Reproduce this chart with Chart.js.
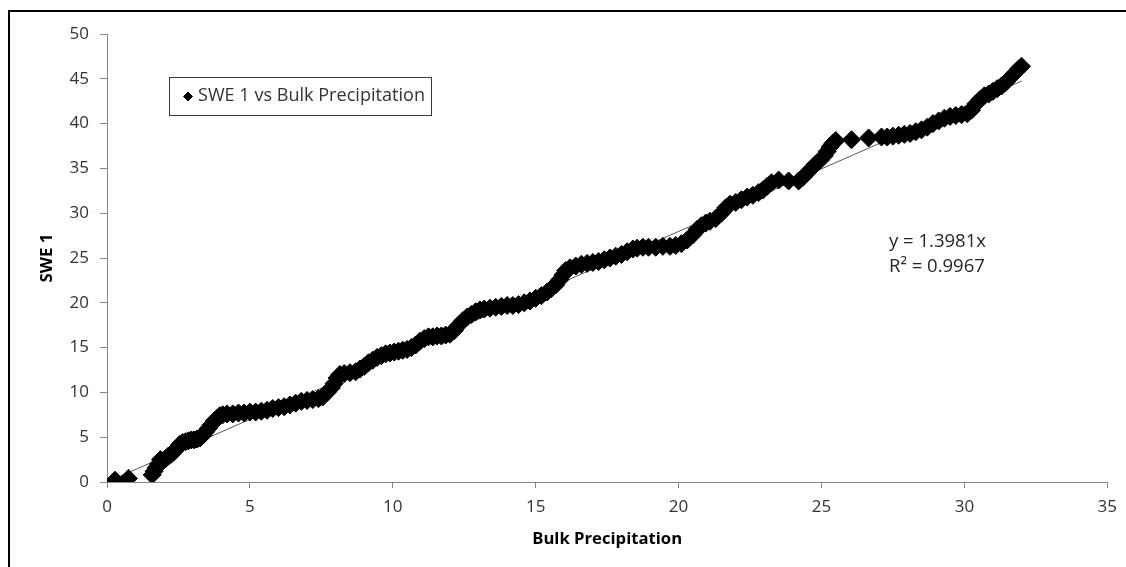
<!DOCTYPE html>
<html>
<head>
<meta charset="utf-8">
<script src="https://cdn.jsdelivr.net/npm/chart.js@4.4.1/dist/chart.umd.min.js"></script>
<style>
  html, body { margin: 0; padding: 0; background: #fff; }
  canvas { display: block; }
</style>
</head>
<body>
<canvas id="c" width="1126" height="567"></canvas>
<script>
// Cumulative bulk precipitation (x) and SWE 1 (y), one entry per observation
const precip = [
  0.28, 0.75, 1.58, 1.65, 1.72, 1.80, 1.87, 2.05, 2.15, 2.25,
  2.35, 2.45, 2.55, 2.65, 2.75, 2.85, 2.95, 3.05, 3.15, 3.25,
  3.35, 3.45, 3.55, 3.65, 3.75, 3.85, 3.95, 4.05, 4.20, 4.40,
  4.60, 4.80, 5.00, 5.20, 5.40, 5.60, 5.80, 6.00, 6.20, 6.40,
  6.60, 6.80, 7.00, 7.20, 7.40, 7.55, 7.70, 7.85, 7.95, 8.05,
  8.15, 8.30, 8.50, 8.70, 8.85, 9.00, 9.15, 9.30, 9.45, 9.60,
  9.75, 9.90, 10.05, 10.20, 10.35, 10.50, 10.65, 10.80, 10.95, 11.10,
  11.25, 11.40, 11.55, 11.70, 11.85, 12.00, 12.15, 12.30, 12.45, 12.60,
  12.75, 12.90, 13.05, 13.20, 13.40, 13.60, 13.80, 14.00, 14.20, 14.40,
  14.60, 14.80, 15.00, 15.20, 15.40, 15.55, 15.70, 15.85, 15.95, 16.05,
  16.20, 16.40, 16.60, 16.80, 17.00, 17.20, 17.40, 17.60, 17.80, 18.00,
  18.20, 18.40, 18.55, 18.75, 18.95, 19.20, 19.45, 19.70, 19.90, 20.10,
  20.30, 20.50, 20.65, 20.80, 20.95, 21.10, 21.30, 21.50, 21.65, 21.80,
  22.00, 22.20, 22.40, 22.60, 22.80, 22.95, 23.10, 23.25, 23.50, 23.85,
  24.20, 24.35, 24.50, 24.65, 24.80, 24.95, 25.10, 25.20, 25.30, 25.40,
  25.50, 26.05, 26.65, 27.10, 27.30, 27.50, 27.70, 27.90, 28.10, 28.30,
  28.50, 28.70, 28.90, 29.10, 29.30, 29.50, 29.70, 29.90, 30.10, 30.25,
  30.40, 30.55, 30.70, 30.85, 31.00, 31.15, 31.30, 31.45, 31.60, 31.75,
  31.90, 32.00
];
const swe1 = [
  0.2, 0.4, 0.8, 1.2, 1.6, 2.0, 2.5, 2.6, 2.9, 3.1,
  3.4, 3.8, 4.2, 4.4, 4.5, 4.6, 4.7, 4.7, 4.8, 4.9,
  5.2, 5.6, 6.0, 6.4, 6.8, 7.1, 7.4, 7.5, 7.6, 7.6,
  7.7, 7.7, 7.8, 7.8, 7.9, 8.0, 8.2, 8.3, 8.4, 8.6,
  8.8, 9.0, 9.1, 9.2, 9.3, 9.5, 10.0, 10.5, 11.0, 11.6,
  12.0, 12.1, 12.2, 12.3, 12.6, 12.9, 13.3, 13.6, 13.9, 14.1,
  14.3, 14.4, 14.5, 14.6, 14.7, 14.8, 15.0, 15.3, 15.7, 16.0,
  16.2, 16.2, 16.3, 16.3, 16.4, 16.5, 16.9, 17.5, 18.0, 18.4,
  18.7, 19.0, 19.2, 19.3, 19.4, 19.5, 19.6, 19.7, 19.7, 19.8,
  20.0, 20.2, 20.5, 20.8, 21.2, 21.6, 22.0, 22.6, 23.1, 23.6,
  23.9, 24.1, 24.3, 24.4, 24.5, 24.6, 24.8, 25.0, 25.2, 25.4,
  25.7, 26.0, 26.1, 26.2, 26.2, 26.2, 26.3, 26.3, 26.4, 26.6,
  27.0, 27.6, 28.2, 28.6, 28.9, 29.1, 29.4, 30.0, 30.6, 31.0,
  31.2, 31.5, 31.8, 32.0, 32.3, 32.6, 33.0, 33.4, 33.7, 33.6,
  33.6, 34.0, 34.5, 35.0, 35.5, 35.9, 36.4, 36.9, 37.4, 37.8,
  38.1, 38.2, 38.4, 38.5, 38.5, 38.6, 38.7, 38.8, 38.9, 39.1,
  39.3, 39.6, 40.0, 40.3, 40.6, 40.8, 40.9, 41.0, 41.1, 41.5,
  42.2, 42.7, 43.1, 43.3, 43.6, 43.9, 44.2, 44.6, 45.1, 45.6,
  46.1, 46.4
];

// Axis tick values
const xTicks = [0, 5, 10, 15, 20, 25, 30, 35];
const yTicks = [0, 5, 10, 15, 20, 25, 30, 35, 40, 45, 50];

// Linear fit through the origin
const trendSlope = 1.3981;
const trendR2 = 0.9967;

const seriesName = 'SWE 1 vs Bulk Precipitation';
const xTitle = 'Bulk Precipitation';
const yTitle = 'SWE 1';
const eqText = 'y = ' + trendSlope.toFixed(4) + 'x';
const r2Text = 'R\u00B2 = ' + trendR2.toFixed(4);

const FAMILY = '"Open Sans", Lato, sans-serif';
const AXIS_GRAY = '#868686';
const TEXT_GRAY = '#333333';

const points = precip.map((x, i) => ({ x: x, y: swe1[i] }));
const xLo = Math.min(...precip), xHi = Math.max(...precip);
const trend = [
  { x: xLo, y: trendSlope * xLo },
  { x: xHi, y: trendSlope * xHi }
];

// Font size that makes a string span a given width
function fitSize(ctx, text, weight, width) {
  ctx.font = weight + ' 100px ' + FAMILY;
  return 100 * width / ctx.measureText(text).width;
}

const decor = {
  id: 'decor',
  beforeDraw(chart) {
    const c = chart.ctx;
    c.save();
    c.fillStyle = '#fff';
    c.fillRect(0, 0, chart.width, chart.height);
    c.restore();
  },
  afterDraw(chart) {
    const c = chart.ctx;
    const a = chart.chartArea;
    c.save();

    // outer frame
    c.strokeStyle = '#000';
    c.lineWidth = 2;
    c.strokeRect(9, 11, chart.width + 40, chart.height + 40);

    // axis titles
    c.fillStyle = '#000';
    c.textAlign = 'center';
    c.textBaseline = 'middle';
    let s = fitSize(c, xTitle, 'bold', 150);
    c.font = 'bold ' + s.toFixed(2) + 'px ' + FAMILY;
    c.fillText(xTitle, (a.left + a.right) / 2, 539);

    s = fitSize(c, yTitle, 'bold', 49);
    c.font = 'bold ' + s.toFixed(2) + 'px ' + FAMILY;
    c.save();
    c.translate(47, (a.top + a.bottom) / 2);
    c.rotate(-Math.PI / 2);
    c.fillText(yTitle, 0, 0);
    c.restore();

    // legend box
    c.fillStyle = '#fff';
    c.fillRect(169.5, 77.5, 262, 38);
    c.strokeStyle = '#3a3a3a';
    c.lineWidth = 1;
    c.strokeRect(169.5, 77.5, 262, 38);
    c.fillStyle = '#000';
    c.strokeStyle = '#000';
    Chart.helpers.drawPoint(c, { pointStyle: 'rectRot', radius: 4.5, borderWidth: 1 }, 188, 96.5);
    s = fitSize(c, seriesName, 'normal', 227);
    c.font = 'normal ' + s.toFixed(2) + 'px ' + FAMILY;
    c.fillStyle = TEXT_GRAY;
    c.textAlign = 'left';
    c.fillText(seriesName, 198, 96);

    // trendline equation
    s = fitSize(c, eqText, 'normal', 97);
    c.font = 'normal ' + s.toFixed(2) + 'px ' + FAMILY;
    c.fillStyle = '#262626';
    c.fillText(eqText, 889, 242);
    c.fillText(r2Text, 889, 267);

    c.restore();
  }
};

new Chart(document.getElementById('c'), {
  type: 'scatter',
  data: {
    datasets: [
      {
        label: seriesName,
        data: points,
        pointStyle: 'rectRot',
        pointRadius: 9,
        pointBorderWidth: 1,
        backgroundColor: '#000',
        borderColor: '#000',
        order: 1
      },
      {
        label: 'Linear fit',
        data: trend,
        showLine: true,
        pointRadius: 0,
        borderColor: '#595959',
        borderWidth: 1,
        order: 2
      }
    ]
  },
  options: {
    responsive: false,
    animation: false,
    events: [],
    layout: { padding: { left: 0, top: 34, right: 17, bottom: 0 } },
    plugins: {
      legend: { display: false },
      tooltip: { enabled: false }
    },
    scales: {
      x: {
        type: 'linear',
        min: xTicks[0],
        max: xTicks[xTicks.length - 1],
        afterBuildTicks(scale) { scale.ticks = xTicks.map(v => ({ value: v })); },
        afterFit(scale) { scale.height = 85; },
        ticks: { color: TEXT_GRAY, font: { family: FAMILY, size: 17 }, padding: 9, maxRotation: 0 },
        grid: { drawOnChartArea: false, tickLength: 6, color: AXIS_GRAY },
        border: { color: AXIS_GRAY, width: 1 }
      },
      y: {
        type: 'linear',
        min: yTicks[0],
        max: yTicks[yTicks.length - 1],
        afterBuildTicks(scale) { scale.ticks = yTicks.map(v => ({ value: v })); },
        afterFit(scale) { scale.width = 107; },
        ticks: { color: TEXT_GRAY, font: { family: FAMILY, size: 17 }, padding: 11 },
        grid: { drawOnChartArea: false, tickLength: 7, color: AXIS_GRAY },
        border: { color: AXIS_GRAY, width: 1 }
      }
    }
  },
  plugins: [decor]
});
</script>
</body>
</html>
